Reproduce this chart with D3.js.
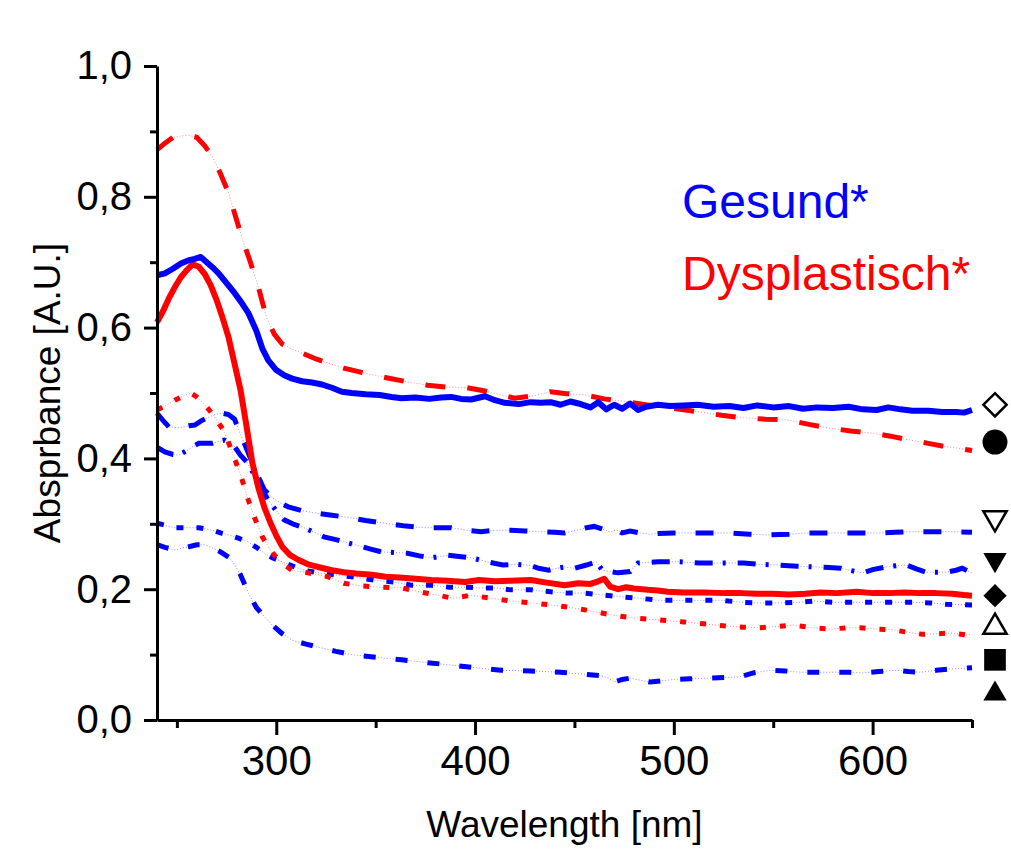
<!DOCTYPE html>
<html>
<head>
<meta charset="utf-8">
<script src="https://cdn.jsdelivr.net/npm/d3@7"></script>
<style>
  body { margin: 0; background: #fff; }
  svg { display: block; font-family: "Liberation Sans", Arial, sans-serif; }
</style>
</head>
<body>
<svg id="chart" width="1011" height="849"></svg>
<script>
// [wavelength nm, absorbance]
const gesundMean = [[240,0.680],[244,0.683],[248,0.690],[252,0.698],[256,0.703],[259,0.705],[262,0.708],[265,0.700],[268,0.692],[271,0.683],[275,0.668],[279,0.653],[283,0.636],[286,0.622],[290,0.595],[293,0.568],[296,0.550],[300,0.535],[304,0.527],[308,0.522],[313,0.518],[318,0.516],[323,0.513],[328,0.508],[333,0.502],[338,0.500],[345,0.498],[352,0.497],[358,0.494],[363,0.492],[370,0.493],[377,0.491],[383,0.493],[388,0.494],[393,0.491],[398,0.490],[405,0.495],[410,0.489],[415,0.485],[422,0.483],[428,0.486],[433,0.485],[438,0.486],[443,0.482],[448,0.487],[452,0.484],[458,0.478],[462,0.486],[466,0.475],[470,0.482],[474,0.476],[478,0.484],[482,0.474],[486,0.479],[492,0.482],[498,0.480],[505,0.481],[512,0.482],[520,0.479],[528,0.480],[535,0.477],[542,0.481],[550,0.478],[558,0.480],[565,0.476],[572,0.478],[580,0.477],[588,0.479],[595,0.475],[602,0.474],[608,0.478],[614,0.475],[620,0.473],[628,0.473],[635,0.471],[642,0.471],[646,0.470],[650,0.474]];

const dysMean = [[240,0.608],[243,0.625],[246,0.645],[249,0.662],[252,0.677],[255,0.688],[258,0.697],[261,0.693],[264,0.682],[267,0.665],[270,0.642],[273,0.615],[276,0.585],[279,0.545],[282,0.505],[285,0.450],[288,0.393],[291,0.355],[294,0.325],[297,0.302],[300,0.282],[303,0.265],[307,0.252],[311,0.245],[316,0.238],[321,0.234],[328,0.229],[334,0.226],[340,0.224],[348,0.222],[355,0.219],[362,0.218],[370,0.216],[378,0.214],[386,0.213],[395,0.211],[402,0.214],[410,0.212],[418,0.213],[428,0.214],[436,0.210],[445,0.206],[452,0.209],[458,0.208],[462,0.212],[465,0.216],[468,0.204],[472,0.200],[476,0.203],[480,0.201],[487,0.199],[492,0.198],[497,0.196],[505,0.195],[515,0.195],[526,0.194],[534,0.194],[542,0.193],[550,0.193],[558,0.192],[566,0.193],[574,0.195],[582,0.194],[592,0.196],[600,0.194],[608,0.194],[616,0.195],[624,0.194],[632,0.194],[640,0.193],[646,0.191],[650,0.190]];

const dysDashed = [[240,0.872],[244,0.882],[248,0.891],[252,0.893],[256,0.894],[260,0.891],[264,0.878],[268,0.861],[272,0.835],[276,0.806],[280,0.765],[283,0.735],[287,0.700],[291,0.662],[295,0.616],[299,0.590],[303,0.575],[308,0.567],[313,0.561],[320,0.552],[327,0.545],[334,0.538],[345,0.530],[356,0.523],[366,0.517],[376,0.512],[386,0.509],[396,0.508],[405,0.503],[413,0.497],[420,0.492],[428,0.495],[438,0.502],[446,0.499],[455,0.497],[465,0.491],[475,0.487],[484,0.483],[493,0.479],[503,0.475],[513,0.471],[524,0.466],[535,0.462],[546,0.460],[557,0.459],[568,0.452],[579,0.446],[589,0.442],[599,0.439],[609,0.434],[619,0.428],[628,0.423],[635,0.419],[642,0.416],[650,0.412]];

const dysDotted = [[240,0.474],[245,0.482],[249,0.489],[253,0.495],[257,0.500],[260,0.494],[263,0.485],[266,0.475],[269,0.463],[273,0.445],[276,0.424],[279,0.400],[282,0.375],[286,0.336],[289,0.310],[293,0.280],[297,0.260],[301,0.245],[305,0.235],[308,0.229],[316,0.225],[326,0.219],[334,0.209],[343,0.205],[353,0.203],[363,0.202],[372,0.196],[381,0.191],[389,0.186],[398,0.191],[408,0.186],[418,0.182],[428,0.179],[438,0.176],[448,0.172],[456,0.168],[463,0.164],[470,0.160],[480,0.156],[492,0.153],[505,0.150],[515,0.147],[525,0.144],[535,0.142],[543,0.141],[552,0.143],[560,0.145],[570,0.141],[579,0.139],[587,0.141],[594,0.141],[602,0.139],[610,0.138],[618,0.134],[625,0.131],[633,0.132],[640,0.133],[647,0.130],[650,0.131]];

const gesundA = [[240,0.469],[243,0.458],[246,0.448],[250,0.447],[253,0.448],[256,0.450],[259,0.451],[262,0.457],[266,0.463],[269,0.467],[273,0.469],[276,0.467],[279,0.460],[282,0.437],[286,0.408],[290,0.378],[294,0.352],[298,0.340],[302,0.332],[306,0.326],[313,0.320],[321,0.316],[328,0.313],[336,0.310],[345,0.305],[354,0.301],[364,0.297],[374,0.294],[388,0.294],[396,0.290],[403,0.288],[410,0.290],[418,0.290],[425,0.289],[432,0.288],[440,0.287],[445,0.286],[451,0.290],[456,0.294],[460,0.296],[463,0.293],[466,0.290],[468,0.287],[471,0.291],[474,0.286],[478,0.289],[483,0.286],[488,0.284],[492,0.285],[500,0.286],[507,0.286],[518,0.286],[528,0.286],[538,0.284],[548,0.283],[558,0.284],[567,0.286],[577,0.286],[587,0.286],[595,0.286],[602,0.286],[611,0.287],[620,0.288],[630,0.288],[640,0.288],[650,0.287]];

const gesundB = [[240,0.417],[244,0.410],[248,0.406],[251,0.405],[255,0.412],[258,0.418],[261,0.423],[264,0.423],[268,0.423],[271,0.426],[274,0.428],[277,0.423],[279,0.418],[282,0.405],[285,0.395],[289,0.375],[293,0.352],[296,0.336],[300,0.320],[304,0.306],[309,0.299],[314,0.294],[319,0.287],[324,0.280],[331,0.275],[337,0.270],[343,0.265],[348,0.261],[353,0.257],[360,0.256],[366,0.255],[372,0.251],[378,0.248],[386,0.252],[392,0.250],[398,0.248],[406,0.242],[414,0.237],[420,0.238],[427,0.237],[432,0.232],[437,0.229],[441,0.232],[445,0.234],[450,0.232],[456,0.237],[461,0.242],[464,0.229],[468,0.227],[472,0.225],[478,0.227],[482,0.240],[487,0.241],[492,0.242],[503,0.242],[513,0.240],[524,0.240],[535,0.240],[543,0.238],[552,0.237],[562,0.235],[572,0.234],[578,0.233],[584,0.232],[590,0.228],[595,0.225],[600,0.230],[607,0.234],[612,0.236],[617,0.237],[622,0.231],[627,0.226],[633,0.226],[637,0.226],[642,0.229],[645,0.232],[650,0.225]];

const gesundC = [[240,0.301],[244,0.298],[249,0.294],[255,0.294],[261,0.294],[265,0.292],[268,0.290],[272,0.286],[276,0.283],[281,0.278],[286,0.272],[290,0.264],[294,0.255],[298,0.248],[303,0.242],[307,0.237],[311,0.232],[316,0.228],[321,0.225],[329,0.222],[338,0.219],[349,0.214],[359,0.211],[368,0.206],[378,0.206],[387,0.203],[395,0.203],[402,0.202],[411,0.202],[418,0.199],[428,0.199],[438,0.196],[447,0.194],[455,0.194],[465,0.191],[475,0.188],[483,0.186],[493,0.183],[503,0.183],[513,0.183],[524,0.183],[534,0.180],[542,0.179],[552,0.179],[562,0.180],[571,0.182],[580,0.180],[591,0.180],[602,0.180],[610,0.180],[620,0.180],[629,0.179],[637,0.177],[650,0.176]];

const gesundD = [[240,0.268],[244,0.264],[249,0.260],[253,0.263],[256,0.265],[260,0.268],[264,0.268],[268,0.263],[272,0.257],[276,0.249],[279,0.238],[282,0.222],[286,0.194],[290,0.172],[294,0.158],[298,0.145],[303,0.132],[308,0.122],[315,0.116],[323,0.110],[330,0.105],[338,0.100],[350,0.096],[363,0.092],[375,0.088],[388,0.084],[400,0.080],[413,0.076],[428,0.075],[443,0.073],[455,0.070],[463,0.068],[467,0.064],[470,0.058],[474,0.062],[478,0.064],[483,0.061],[488,0.058],[494,0.060],[500,0.062],[508,0.063],[517,0.064],[526,0.065],[533,0.066],[540,0.072],[548,0.076],[556,0.075],[564,0.073],[572,0.073],[580,0.073],[588,0.073],[595,0.072],[603,0.074],[612,0.076],[618,0.074],[624,0.073],[632,0.076],[639,0.078],[645,0.079],[650,0.080]];

// symbol column on the right: [type, filled, absorbance level]
const markerTypes = ['diamond', 'circle', 'triangleDown', 'triangleDown', 'diamond', 'triangle', 'square', 'triangle'];
const markerFilled = [false, true, false, true, true, false, true, true];
const markerLevels = [0.482, 0.425, 0.309, 0.245, 0.19, 0.142, 0.092, 0.04];

const xTicks = [300, 400, 500, 600];
const xMinor = [250, 350, 450, 550, 650];
const yTicks = [0, 0.2, 0.4, 0.6, 0.8, 1.0];
const yMinor = [0.1, 0.3, 0.5, 0.7, 0.9];

const BLUE = '#0000ff', RED = '#ff0000';

const svg = d3.select('#chart');

const x = d3.scaleLinear().domain([240, 650]).range([157, 972]);
const y = d3.scaleLinear().domain([0, 1]).range([720, 66]);

const line = d3.line().x(d => x(d[0])).y(d => y(d[1]));

// broken curves: thin dotted trace + thick dashes on top
const broken = [
  {data: gesundD, color: BLUE, dash: '12,20'},
  {data: gesundC, color: BLUE, dash: '7,13'},
  {data: gesundB, color: BLUE, dash: '18,10,3,12'},
  {data: gesundA, color: BLUE, dash: '18,20'},
  {data: dysDotted, color: RED, dash: '6,14'},
  {data: dysDashed, color: RED, dash: '20,22'}
];

const gLines = svg.append('g');

broken.forEach(s => {
  gLines.append('path')
    .attr('d', line(s.data))
    .attr('fill', 'none')
    .attr('stroke', s.color)
    .attr('stroke-opacity', 0.45)
    .attr('stroke-width', 1)
    .attr('stroke-dasharray', '1,2');
  gLines.append('path')
    .attr('d', line(s.data))
    .attr('fill', 'none')
    .attr('stroke', s.color)
    .attr('stroke-width', 5)
    .attr('stroke-dasharray', s.dash);
});

[{data: dysMean, color: RED}, {data: gesundMean, color: BLUE}].forEach(s => {
  gLines.append('path')
    .attr('d', line(s.data))
    .attr('fill', 'none')
    .attr('stroke', s.color)
    .attr('stroke-width', 6)
    .attr('stroke-linejoin', 'round');
});

// axes
const fmt = v => d3.format('.1f')(v).replace('.', ',');

const yAxis = svg.append('g')
  .attr('transform', `translate(${x.range()[0]},0)`)
  .call(d3.axisLeft(y).tickValues(yTicks).tickFormat(fmt).tickSize(13).tickPadding(12).tickSizeOuter(0));
svg.append('g')
  .attr('transform', `translate(${x.range()[0]},0)`)
  .call(d3.axisLeft(y).tickValues(yMinor).tickFormat('').tickSize(7).tickSizeOuter(0))
  .select('.domain').remove();

const xAxis = svg.append('g')
  .attr('transform', `translate(0,${y(0)})`)
  .call(d3.axisBottom(x).tickValues(xTicks).tickFormat(d3.format('d')).tickSize(15).tickPadding(10).tickSizeOuter(0));
svg.append('g')
  .attr('transform', `translate(0,${y(0)})`)
  .call(d3.axisBottom(x).tickValues(xMinor).tickFormat('').tickSize(8).tickSizeOuter(0))
  .select('.domain').remove();

svg.selectAll('.domain, .tick line').attr('stroke', '#000').attr('stroke-width', 3);
yAxis.selectAll('text').attr('font-size', 40).attr('font-family', '"Liberation Sans", Arial, sans-serif').attr('fill', '#000');
xAxis.selectAll('text').attr('font-size', 42).attr('font-family', '"Liberation Sans", Arial, sans-serif').attr('fill', '#000');

// axis titles
svg.append('text')
  .attr('x', (x.range()[0] + x.range()[1]) / 2)
  .attr('y', 837)
  .attr('text-anchor', 'middle')
  .attr('font-size', 37)
  .text('Wavelength [nm]');

svg.append('text')
  .attr('transform', `translate(60,${(y(0) + y(1)) / 2}) rotate(-90)`)
  .attr('text-anchor', 'middle')
  .attr('font-size', 37)
  .text('Absprbance [A.U.]');

// legend text
svg.append('text').attr('x', 682).attr('y', 218).attr('font-size', 48).attr('fill', BLUE).text('Gesund*');
svg.append('text').attr('x', 682).attr('y', 290).attr('font-size', 48).attr('fill', RED).text('Dysplastisch*');

// symbol column
const symType = {
  diamond: [d3.symbolSquare, 270, 45],
  circle: [d3.symbolCircle, 490, 0],
  triangle: [d3.symbolTriangle, 235, 0],
  triangleDown: [d3.symbolTriangle, 235, 180],
  square: [d3.symbolSquare, 470, 0]
};

svg.append('g')
  .selectAll('path')
  .data(markerTypes.map((t, i) => ({t, filled: markerFilled[i], v: markerLevels[i]})))
  .join('path')
    .attr('transform', d => `translate(995,${y(d.v)}) rotate(${symType[d.t][2]})`)
    .attr('d', d => d3.symbol().type(symType[d.t][0]).size(symType[d.t][1])())
    .attr('fill', d => d.filled ? '#000' : '#fff')
    .attr('stroke', '#000')
    .attr('stroke-width', d => d.filled ? 0 : 2.5);
</script>
</body>
</html>
